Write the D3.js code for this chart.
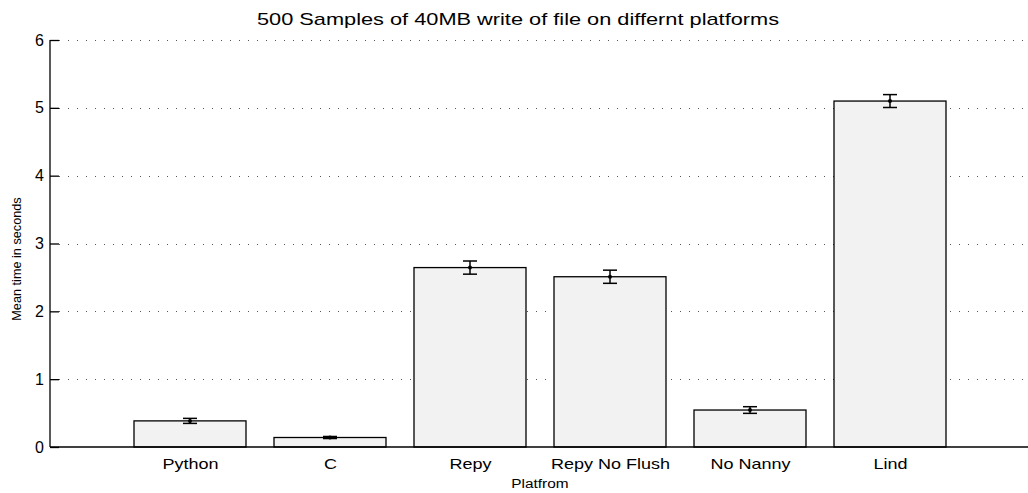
<!DOCTYPE html>
<html><head><meta charset="utf-8">
<script src="https://cdn.jsdelivr.net/npm/d3@7"></script>
<style>body{margin:0;background:#fff}svg{display:block}text{font-family:"Liberation Sans",Arial,sans-serif;fill:#000}</style>
</head><body><svg id="c" width="1028" height="493"></svg>
<script>
const categories = ["Python","C","Repy","Repy No Flush","No Nanny","Lind"];
const means = [0.385, 0.14, 2.645, 2.51, 0.545, 5.10];
const errors = [0.037, 0.015, 0.097, 0.097, 0.049, 0.095];
const yTicks = [0,1,2,3,4,5,6];

const svg = d3.select("#c");
const L = 50, R = 1030, T = 40, B = 447;
const x = d3.scaleLinear().domain([0, 7]).range([L, R]);
const y = d3.scaleLinear().domain([0, 6]).range([B, T]);
const bw = (x(1) - x(0)) * 0.8;

function stretch(sel, k) {
  sel.each(function(){
    const w = this.getComputedTextLength();
    d3.select(this).attr("textLength", w*k).attr("lengthAdjust","spacingAndGlyphs");
  });
}

// grid
svg.append("g").selectAll("line").data(yTicks.filter(d=>d>0)).join("line")
  .attr("x1", L+9).attr("x2", 1028).attr("y1", d=>Math.round(y(d))+0.5).attr("y2", d=>Math.round(y(d))+0.5)
  .attr("stroke", "#555").attr("stroke-width", 1).attr("stroke-dasharray", "1,8");

// bars
const g = svg.append("g");
g.selectAll("rect").data(categories).join("rect")
  .attr("x", (d,i)=>x(i+1)-bw/2).attr("width", bw)
  .attr("y", (d,i)=>y(means[i])).attr("height", (d,i)=>y(0)-y(means[i]))
  .attr("fill", "#f2f2f2").attr("stroke", "#000").attr("stroke-width", 1.3);

// error bars
const eb = svg.append("g").attr("stroke", "#000").attr("stroke-width", 1.5);
categories.forEach((c,i)=>{
  const cx = x(i+1);
  eb.append("line").attr("x1",cx).attr("x2",cx).attr("y1",y(means[i]+errors[i])).attr("y2",y(means[i]-errors[i]));
  eb.append("line").attr("x1",cx-7).attr("x2",cx+7).attr("y1",y(means[i]+errors[i])).attr("y2",y(means[i]+errors[i]));
  eb.append("line").attr("x1",cx-7).attr("x2",cx+7).attr("y1",y(means[i]-errors[i])).attr("y2",y(means[i]-errors[i]));
  svg.append("circle").attr("cx",cx).attr("cy",y(means[i])).attr("r",2).attr("fill","#000");
});

// y axis
const ya = d3.axisLeft(y).tickValues(yTicks).tickSize(-9).tickPadding(6).tickFormat(d3.format("d"));
const yg = svg.append("g").attr("transform",`translate(${L},0)`).call(ya);
yg.select(".domain").attr("stroke","#000").attr("stroke-width",1.3).attr("d",`M0,${T}V${B}`);
yg.selectAll(".tick line").attr("stroke","#000").attr("stroke-width",1.3);
yg.selectAll("text").attr("font-size",16).attr("font-family","Liberation Sans, Arial, sans-serif");

// x axis
const xa = d3.axisBottom(x).tickValues(d3.range(1,7)).tickSize(0).tickPadding(11).tickFormat(d=>categories[d-1]);
const xg = svg.append("g").attr("transform",`translate(0,${B})`).call(xa);
xg.select(".domain").attr("stroke","#000").attr("stroke-width",1.3).attr("d",`M${L},0H${R}`);
xg.selectAll("text").attr("font-size",15).attr("font-family","Liberation Sans, Arial, sans-serif");
stretch(xg.selectAll("text"), 1.2);

// labels
const title = svg.append("text").attr("x",518).attr("y",25).attr("text-anchor","middle").attr("font-size",17)
  .text("500 Samples of 40MB write of file on differnt platforms");
stretch(title, 1.28);
const xl = svg.append("text").attr("x",540).attr("y",488).attr("text-anchor","middle").attr("font-size",12.5).text("Platfrom");
stretch(xl, 1.23);
svg.append("text").attr("transform","translate(21,259) rotate(-90)").attr("text-anchor","middle").attr("font-size",12.7)
  .text("Mean time in seconds");
</script></body></html>
